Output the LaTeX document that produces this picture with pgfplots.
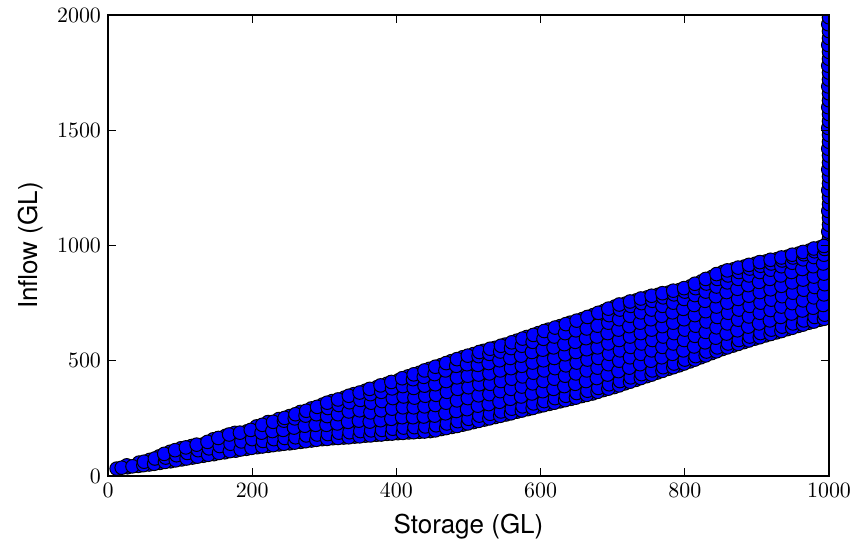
\documentclass[border=0pt]{standalone}
\usepackage{fontspec}
\usepackage{pgfplots}
\pgfplotsset{compat=1.18}
\newfontfamily\labfont{TeX Gyre Heros}
\pgfplotsset{pt/.style={only marks,mark=*,mark size=3.4pt,
    mark options={fill=blue,draw=black,line width=0.5pt}}}

\begin{document}
\begin{tikzpicture}
\begin{axis}[name=ax,
  scale only axis,width=360.5pt,height=230.5pt,
  xmin=0,xmax=1000,ymin=0,ymax=2000,
  xtick={0,200,400,600,800,1000},
  ytick={0,500,1000,1500,2000},
  /pgf/number format/set thousands separator={},
  tick align=inside,tick pos=both,
  major tick length=4pt,
  tick style={line width=0.5pt,black},
  axis line style={line width=1pt},
  axis on top,
  clip marker paths=true,
  tick label style={font=\fontsize{11.3}{13}\selectfont},
  xlabel={Storage (GL)},ylabel={Inflow (GL)},
  label style={font=\labfont\fontsize{13}{15}\selectfont},
  xlabel style={at={(axis description cs:0.5,-0.068)},anchor=north},
  ylabel style={at={(axis description cs:-0.08,0.5)},anchor=south},
  ]
% first layer
\addplot[pt] coordinates {
(12,32)(27,38)(26,46)(42,44)(43,58)(57,50)(58,70)(72,57)(71,85)
(87,64)(88,86)(86,105)(102,72)(103,97)(101,120)(117,80)(118,105)(116,130)
(132,88)(131,115)(133,138)(147,95)(148,128)(146,159)(162,103)(161,140)(163,174)
(177,110)(178,150)(176,187)(192,118)(191,158)(193,194)(207,125)(208,170)(206,215)
(222,131)(221,170)(223,205)(222,234)(237,137)(238,175)(236,212)(237,247)
(252,142)(251,182)(253,222)(252,260)(267,148)(268,192)(266,236)(267,278)
(282,154)(281,200)(283,245)(282,293)
(297,160)(298,198)(296,238)(297,275)(298,310)
(312,164)(311,205)(313,246)(312,287)(311,325)
(327,167)(328,210)(326,255)(327,298)(328,340)
(342,171)(341,215)(343,262)(342,308)(341,355)
(357,175)(358,215)(356,255)(357,295)(358,335)(357,370)
(372,179)(371,220)(373,262)(372,305)(371,345)(373,385)
(387,183)(388,226)(386,270)(387,315)(388,360)(387,400)
(402,186)(401,230)(403,275)(402,322)(401,370)(403,415)
(417,189)(418,232)(416,275)(417,318)(418,360)(417,400)(416,432)
(432,192)(431,235)(433,280)(432,325)(431,370)(433,410)(432,448)
(447,195)(448,240)(446,285)(447,330)(448,375)(447,420)(446,465)
(462,204)(461,250)(463,295)(462,340)(461,390)(463,435)(462,481)
(477,213)(478,255)(476,300)(477,345)(478,395)(477,445)(476,498)
(492,223)(491,265)(493,310)(492,360)(491,410)(493,460)(492,515)
(507,234)(508,278)(506,322)(507,368)(508,415)(507,460)(506,500)(507,529)
(522,245)(521,288)(523,330)(522,375)(521,420)(523,465)(522,505)(521,543)
(537,256)(538,300)(536,345)(537,390)(538,435)(537,480)(536,520)(537,556)
(552,267)(551,310)(553,352)(552,395)(551,440)(553,485)(552,530)(551,570)
(567,279)(568,322)(566,365)(567,410)(568,455)(567,500)(566,545)(567,587)
(582,290)(581,335)(583,380)(582,425)(581,470)(583,515)(582,560)(581,603)
(597,302)(598,345)(596,390)(597,435)(598,480)(597,525)(596,570)(597,620)
(612,313)(611,355)(613,400)(612,445)(611,490)(613,535)(612,580)(611,635)
(627,324)(628,368)(626,412)(627,458)(628,505)(627,550)(626,595)(627,650)
(642,335)(641,378)(643,422)(642,468)(641,515)(643,560)(642,610)(641,665)
(657,347)(658,390)(656,435)(657,480)(658,525)(657,570)(656,615)(657,655)(658,681)
(672,358)(671,400)(673,445)(672,490)(671,535)(673,580)(672,625)(671,665)(673,698)
(687,373)(688,415)(686,460)(687,505)(688,550)(687,595)(686,640)(687,680)(688,716)
(702,386)(701,430)(703,475)(702,520)(701,565)(703,610)(702,655)(701,700)(703,735)
(717,402)(718,445)(716,490)(717,535)(718,580)(717,625)(716,670)(717,710)(718,748)
(732,417)(731,460)(733,505)(732,550)(731,595)(733,640)(732,685)(731,725)(733,762)
(747,433)(748,475)(746,520)(747,565)(748,610)(747,655)(746,700)(747,740)(748,775)
(762,449)(761,490)(763,535)(762,580)(761,625)(763,670)(762,715)(761,755)(763,786)
(777,465)(778,505)(776,550)(777,595)(778,640)(777,685)(776,730)(777,770)(778,796)
(792,480)(791,520)(793,565)(792,610)(791,655)(793,700)(792,745)(791,785)(793,807)
(807,497)(808,540)(806,585)(807,630)(808,675)(807,720)(806,765)(807,800)(808,823)
(822,515)(821,555)(823,600)(822,645)(821,690)(823,735)(822,780)(821,820)(823,844)
(837,533)(838,575)(836,620)(837,665)(838,710)(837,755)(836,800)(837,840)(838,864)
(852,551)(851,595)(853,640)(852,685)(851,730)(853,775)(852,820)(851,860)(853,885)
(867,566)(868,610)(866,655)(867,700)(868,745)(867,790)(866,835)(867,875)(868,897)
(882,581)(881,625)(883,670)(882,715)(881,760)(883,805)(882,850)(881,890)(883,909)
(897,596)(898,640)(896,685)(897,730)(898,775)(897,820)(896,865)(897,900)(898,921)
(912,610)(911,650)(913,695)(912,740)(911,785)(913,830)(912,875)(911,910)(913,931)
(927,623)(928,665)(926,710)(927,755)(928,800)(927,845)(926,890)(927,925)(928,941)
(942,637)(941,680)(943,725)(942,770)(941,815)(943,860)(942,905)(941,935)(943,952)
(957,651)(958,695)(956,740)(957,785)(958,830)(957,875)(956,920)(957,950)(958,965)
(972,665)(971,708)(973,752)(972,797)(971,842)(973,887)(972,932)(971,960)(973,978)
(987,678)(988,720)(986,765)(987,810)(988,855)(987,900)(986,945)(987,975)(988,992)
(998,687)(997,730)(999,775)(998,820)(997,865)(999,910)(998,955)(997,990)(999,1002)
(1000,1030)(999,1060)(1000,1090)(1000,1120)(999,1150)(1000,1180)(1000,1210)
(999,1240)(1000,1270)(1000,1300)(999,1330)(1000,1360)(1000,1390)(999,1420)
(1000,1450)(1000,1480)(999,1510)(1000,1540)(1000,1570)(999,1600)(1000,1630)
(1000,1660)(999,1690)(1000,1720)(1000,1750)(999,1780)(1000,1810)(1000,1840)
(999,1870)(1000,1900)(1000,1930)(999,1960)(1000,1990)
};
% second layer, between the columns of the first
\addplot[pt] coordinates {
(19,36)(34,42)(49,47)(50,62)(64,53)(65,76)(79,61)(80,80)(78,96)
(94,68)(95,90)(93,112)(109,76)(110,100)(108,124)(124,84)(125,112)(123,136)
(139,92)(140,120)(138,148)(154,100)(155,130)(153,165)(169,108)(170,140)(168,180)
(184,115)(185,150)(183,188)(199,122)(200,160)(198,200)
(214,128)(215,152)(213,188)(214,222)(229,134)(230,160)(228,195)(229,235)
(244,140)(245,165)(243,200)(244,240)(245,252)(259,145)(260,168)(258,210)(259,250)(260,268)
(274,151)(275,176)(273,218)(274,262)(275,283)(289,157)(290,180)(288,222)(289,268)(290,300)
(304,161)(305,182)(303,222)(304,260)(305,295)(304,318)
(319,165)(320,188)(318,228)(319,268)(320,308)(319,332)
(334,168)(335,190)(333,235)(334,280)(335,320)(334,348)
(349,172)(350,195)(348,240)(349,285)(350,330)(349,362)
(364,176)(365,198)(363,236)(364,276)(365,318)(364,355)(363,378)
(379,180)(380,200)(378,242)(379,285)(380,325)(379,365)(378,393)
(394,184)(395,205)(393,248)(394,292)(395,338)(394,380)(393,408)
(409,187)(410,210)(408,255)(409,298)(410,345)(409,390)(408,424)
(424,190)(425,212)(423,255)(424,298)(425,340)(424,382)(423,420)(424,441)
(439,193)(440,215)(438,258)(439,302)(440,348)(439,392)(438,430)(439,458)
(454,198)(455,220)(453,262)(454,308)(455,352)(454,398)(453,442)(454,474)
(469,208)(470,228)(468,272)(469,318)(470,365)(469,412)(468,458)(469,490)
(484,217)(485,238)(483,282)(484,328)(485,378)(484,428)(483,478)(484,507)
(499,228)(500,248)(498,290)(499,338)(500,385)(499,435)(498,485)(499,522)
(514,239)(515,262)(513,305)(514,350)(515,398)(514,440)(513,482)(514,520)(515,538)
(529,250)(530,270)(528,312)(529,355)(530,400)(529,445)(528,490)(529,530)(530,552)
(544,261)(545,280)(543,322)(544,368)(545,412)(544,458)(543,502)(544,540)(545,565)
(559,272)(560,292)(558,335)(559,378)(560,422)(559,468)(558,512)(559,555)(560,580)
(574,284)(575,302)(573,345)(574,388)(575,432)(574,478)(573,522)(574,565)(575,596)
(589,295)(590,315)(588,358)(589,402)(590,448)(589,492)(588,538)(589,582)(590,612)
(604,307)(605,325)(603,368)(604,412)(605,458)(604,502)(603,548)(604,595)(605,629)
(619,318)(620,338)(618,378)(619,422)(620,468)(619,512)(618,558)(619,605)(620,644)
(634,329)(635,348)(633,390)(634,435)(635,480)(634,528)(633,572)(634,620)(635,659)
(649,340)(650,360)(648,400)(649,445)(650,492)(649,538)(648,582)(649,632)(650,674)
(664,352)(665,370)(663,412)(664,458)(665,505)(664,550)(663,598)(664,640)(665,690)
(679,365)(680,382)(678,425)(679,470)(680,512)(679,558)(678,605)(679,652)(680,708)
(694,379)(695,398)(693,440)(694,485)(695,530)(694,575)(693,620)(694,665)(695,698)(694,726)
(709,393)(710,412)(708,455)(709,500)(710,545)(709,590)(708,635)(709,680)(710,722)(709,744)
(724,409)(725,428)(723,470)(724,515)(725,560)(724,605)(723,650)(724,695)(725,738)(724,757)
(739,425)(740,442)(738,485)(739,530)(740,575)(739,620)(738,665)(739,710)(740,750)(739,770)
(754,440)(755,458)(753,500)(754,545)(755,590)(754,635)(753,680)(754,722)(755,760)(754,782)
(769,456)(770,472)(768,515)(769,560)(770,605)(769,650)(768,695)(769,738)(770,775)(769,793)
(784,472)(785,488)(783,530)(784,575)(785,620)(784,665)(783,710)(784,752)(785,788)(784,804)
(799,488)(800,505)(798,545)(799,590)(800,635)(799,680)(798,725)(799,768)(800,800)(799,815)
(814,505)(815,520)(813,562)(814,608)(815,652)(814,698)(813,742)(814,785)(815,815)(814,834)
(829,523)(830,540)(828,580)(829,625)(830,670)(829,715)(828,760)(829,800)(830,835)(829,855)
(844,541)(845,558)(843,600)(844,645)(845,690)(844,735)(843,780)(844,822)(845,855)(844,876)
(859,558)(860,575)(858,618)(859,662)(860,708)(859,752)(858,798)(859,840)(860,870)(859,892)
(874,573)(875,590)(873,632)(874,678)(875,722)(874,768)(873,812)(874,855)(875,885)(874,904)
(889,588)(890,605)(888,648)(889,692)(890,738)(889,782)(888,828)(889,870)(890,900)(889,916)
(904,602)(905,620)(903,662)(904,708)(905,752)(904,798)(903,842)(904,885)(905,912)(904,928)
(919,616)(920,635)(918,675)(919,720)(920,765)(919,810)(918,855)(919,895)(920,922)(919,938)
(934,629)(935,648)(933,690)(934,735)(935,780)(934,825)(933,870)(934,910)(935,935)(934,948)
(949,643)(950,662)(948,705)(949,750)(950,795)(949,840)(948,885)(949,925)(950,948)(949,960)
(964,657)(965,675)(963,718)(964,762)(965,808)(964,852)(963,898)(964,940)(965,962)(964,972)
(979,670)(980,690)(978,730)(979,775)(980,820)(979,865)(978,910)(979,950)(980,975)(979,987)
(993,682)(994,700)(992,742)(993,788)(994,832)(993,878)(992,922)(993,960)(994,985)(993,998)
};
\end{axis}
\pgfresetboundingbox
\path[use as bounding box] ([shift={(-54pt,-37pt)}]ax.south west) rectangle ([shift={(13.5pt,7.5pt)}]ax.north east);
\end{tikzpicture}
\end{document}
